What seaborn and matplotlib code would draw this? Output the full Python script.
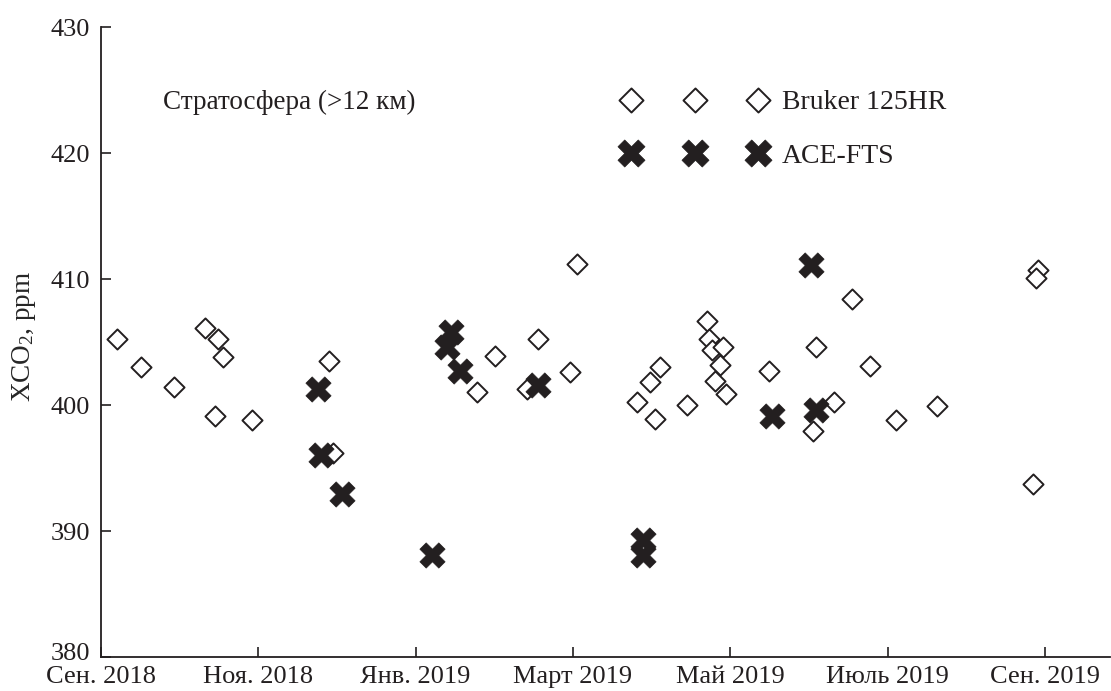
import matplotlib
matplotlib.use("Agg")
import matplotlib.pyplot as plt
import matplotlib.transforms as mtransforms
import seaborn as sns
import pandas as pd

# days since 1 Sep 2018 (axis ticks every 60 days, labelled by month)
bruker_day = [6.2, 15.1, 27.8, 39.7, 44.7, 46.7, 43.6, 57.5, 87.1, 88.6,
              150.3, 143.3, 166.8, 162.3, 181.7, 178.9, 213.2, 209.4, 204.3, 211.3,
              223.3, 231.0, 232.0, 233.1, 237.3, 236.1, 234.2, 238.2, 254.9, 272.7,
              286.3, 293.3, 279.6, 271.4, 303.2, 319.0, 357.5, 356.5, 355.6]
bruker_xco2 = [405.2, 403.0, 401.4, 406.1, 405.2, 403.8, 399.1, 398.8, 403.5, 396.2,
               403.9, 401.0, 405.2, 401.3, 411.2, 402.6, 403.0, 401.8, 400.2, 398.9,
               400.0, 406.7, 405.2, 404.4, 404.6, 403.2, 401.9, 400.9, 402.7, 404.6,
               408.4, 403.1, 400.2, 397.9, 398.8, 399.9, 410.7, 410.1, 393.7]

ace_day = [82.9, 83.9, 92.0, 133.4, 131.8, 136.9, 166.8, 126.2,
           206.8, 206.6, 270.7, 255.8, 272.7]
ace_xco2 = [401.3, 396.0, 392.9, 405.8, 404.6, 402.7, 401.6, 388.1,
            389.3, 388.1, 411.1, 399.1, 399.6]

tick_days = [0, 60, 120, 180, 240, 300, 360]
tick_labels = ["Сен. 2018", "Ноя. 2018", "Янв. 2019", "Март 2019",
               "Май 2019", "Июль 2019", "Сен. 2019"]
y_ticks = [380, 390, 400, 410, 420, 430]

sns.set_theme(style="ticks")
plt.rcParams["font.family"] = ["Liberation Serif", "DejaVu Serif"]
plt.rcParams["mathtext.fontset"] = "custom"
plt.rcParams["mathtext.rm"] = "Liberation Serif"
plt.rcParams["mathtext.it"] = "Liberation Serif:italic"
plt.rcParams["xtick.direction"] = "in"
plt.rcParams["ytick.direction"] = "in"

fig = plt.figure(figsize=(11.11, 6.91), dpi=100)
ax = fig.add_axes([101 / 1111, 1 - 657 / 691, 1009 / 1111, 630 / 691])

df_b = pd.DataFrame({"day": bruker_day, "xco2": bruker_xco2})
df_a = pd.DataFrame({"day": ace_day, "xco2": ace_xco2})

ink = "#231f20"
sns.scatterplot(data=df_b, x="day", y="xco2", ax=ax, marker="D", s=105,
                facecolor="white", edgecolor=ink, linewidth=1.4,
                label="Bruker 125HR", zorder=3)
sns.scatterplot(data=df_a, x="day", y="xco2", ax=ax, marker="X", s=330,
                color=ink, edgecolor=ink, linewidth=0.5,
                label="ACE-FTS", zorder=4)

ax.set_xlim(0, 384.8)
ax.set_ylim(380, 430)
ax.set_xticks(tick_days)
ax.set_xticklabels(tick_labels)
ax.set_yticks(y_ticks)
ax.set_xlabel("")
ax.set_ylabel("XCO$_2$, ppm", fontsize=19.5)
ax.yaxis.set_label_coords(-(101 - 38) / 1009, (657 - 336) / 630)
ax.tick_params(axis="both", direction="in", length=7, width=1.2,
               labelsize=19, colors=ink)
ax.tick_params(axis="y", pad=8)
ax.tick_params(axis="x", pad=6.8)
for sp in ["top", "right"]:
    ax.spines[sp].set_visible(False)
for sp in ["left", "bottom"]:
    ax.spines[sp].set_color(ink)
    ax.spines[sp].set_linewidth(1.3)

# lift the lowest y label a little, as in the original, so it clears the date label
lbl = ax.yaxis.get_major_ticks()[0].label1
lbl.set_transform(lbl.get_transform() +
                  mtransforms.ScaledTranslation(0, 5 / 100, fig.dpi_scale_trans))

ax.text(23.6, 424.0, "Стратосфера (>12 км)", fontsize=19.5, va="center",
        ha="left", color=ink)

leg = ax.legend(scatterpoints=3, scatteryoffsets=[0.5], frameon=False,
                fontsize=20, handlelength=5.17, handletextpad=0.55,
                labelspacing=1.0, borderpad=0, loc="upper left",
                bbox_to_anchor=(622.7 / 1111, 1 - 90 / 691),
                bbox_transform=fig.transFigure, borderaxespad=0)
hs = leg.legend_handles
hs[0].set_sizes([150])
hs[1].set_sizes([380])
for t in leg.get_texts():
    t.set_color(ink)

fig.savefig("out.png", dpi=100)
